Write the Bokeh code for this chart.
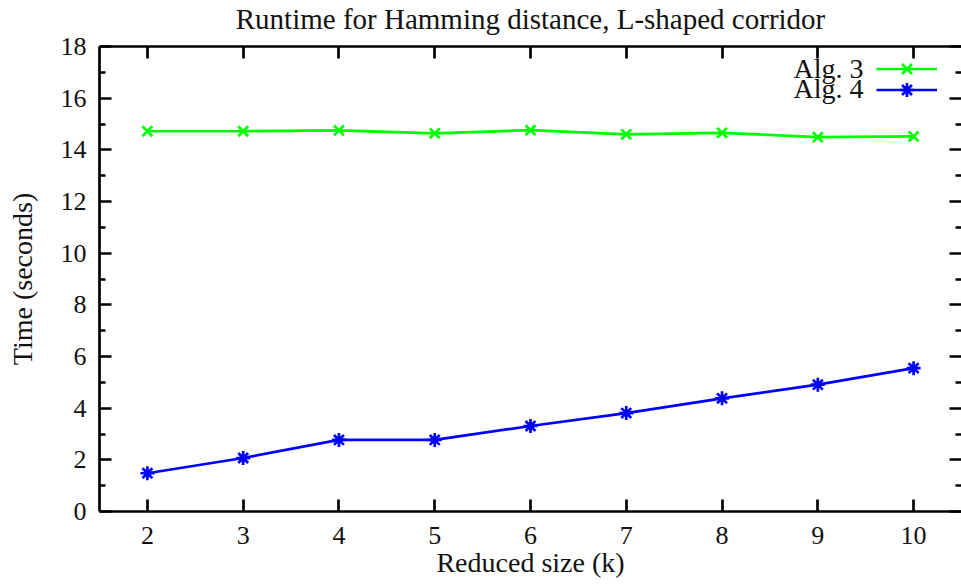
from bokeh.plotting import figure
from bokeh.models import (FixedTicker, LinearAxis, Label, Legend, LegendItem,
                          Range1d, CustomJSTickFormatter)
from bokeh.core.properties import value
from bokeh.embed import file_html
from bokeh.resources import INLINE

# Runtime measurements (seconds) per reduced size k
k_values = [2, 3, 4, 5, 6, 7, 8, 9, 10]
alg3_times = [14.72, 14.72, 14.75, 14.64, 14.76, 14.60, 14.66, 14.49, 14.52]
alg4_times = [1.48, 2.07, 2.77, 2.77, 3.31, 3.81, 4.38, 4.91, 5.55]
series_names = ["Alg. 3", "Alg. 4"]
series_colors = ["#00ff00", "#0000ff"]
series_markers = ["x", "asterisk"]

x_ticks = [2, 3, 4, 5, 6, 7, 8, 9, 10]
y_ticks = [0, 2, 4, 6, 8, 10, 12, 14, 16, 18]
y_minor_ticks = [1, 3, 5, 7, 9, 11, 13, 15, 17]

title_text = "Runtime for Hamming distance, L-shaped corridor"
y_label_text = "Time (seconds)"
x_label_text = "Reduced size (k)"

FONT = "Liberation Serif"
INK = "#111111"
LW = 2.7

p = figure(width=961, height=586, output_backend="svg", toolbar_location=None,
           x_range=Range1d(1.5, 10.5), y_range=Range1d(0, 18),
           min_border_left=99, min_border_right=0, min_border_top=45,
           min_border_bottom=75)
p.outline_line_color = None
p.grid.visible = False
p.background_fill_color = "white"
p.border_fill_color = "white"

# Title
p.title.text = title_text
p.title.align = "center"
p.title.text_font = FONT
p.title.text_font_size = "29px"
p.title.text_font_style = "normal"
p.title.text_color = INK
p.title.standoff = 0


def empty_labels(ax):
    ax.formatter = CustomJSTickFormatter(code="return ''")
    ax.major_label_text_font_size = "1px"
    ax.major_label_standoff = 0


def style_axis(ax, ticks, minor, show_labels=True):
    ax.ticker = FixedTicker(ticks=ticks, minor_ticks=minor)
    ax.axis_line_color = "black"
    ax.axis_line_width = LW
    ax.major_tick_line_color = "black"
    ax.major_tick_line_width = LW
    ax.minor_tick_line_color = "black"
    ax.minor_tick_line_width = LW
    ax.major_tick_in = 12
    ax.major_tick_out = 0
    ax.minor_tick_in = 6
    ax.minor_tick_out = 0
    ax.major_label_text_font = FONT
    ax.major_label_text_color = INK
    if show_labels:
        ax.major_label_text_font_size = "26px"
    else:
        empty_labels(ax)


# Bottom and left axes with labels
xax = p.xaxis[0]
style_axis(xax, x_ticks, [])
xax.major_label_standoff = 15
xax.axis_label = x_label_text
xax.axis_label_text_font = FONT
xax.axis_label_text_font_size = "28px"
xax.axis_label_text_font_style = "normal"
xax.axis_label_text_color = INK
xax.axis_label_standoff = 0

yax = p.yaxis[0]
style_axis(yax, y_ticks, y_minor_ticks)
yax.major_label_standoff = 13
yax.axis_label = y_label_text
yax.axis_label_text_font = FONT
yax.axis_label_text_font_size = "28px"
yax.axis_label_text_font_style = "normal"
yax.axis_label_text_color = INK
yax.axis_label_standoff = 20

# Mirrored tick marks on the top and right edges
top_ax = LinearAxis()
style_axis(top_ax, x_ticks, [], show_labels=False)
p.add_layout(top_ax, "above")

# Invisible strip between the frame and the title
gap_ax = LinearAxis(ticker=FixedTicker(ticks=x_ticks, minor_ticks=[]))
gap_ax.axis_line_color = None
gap_ax.major_tick_line_color = None
gap_ax.major_tick_in = 0
gap_ax.major_tick_out = 12
gap_ax.minor_tick_in = 0
gap_ax.minor_tick_out = 0
empty_labels(gap_ax)
p.add_layout(gap_ax, "above")

right_ax = LinearAxis()
style_axis(right_ax, y_ticks, y_minor_ticks, show_labels=False)
right_ax.axis_line_color = None
p.add_layout(right_ax, "right")

# Series: line plus markers, one key entry each
series_values = [alg3_times, alg4_times]
for i, (name, ys) in enumerate(zip(series_names, series_values)):
    r_line = p.line(k_values, ys, line_color=series_colors[i], line_width=LW)
    r_pts = p.scatter(k_values, ys, marker=series_markers[i], size=14,
                      line_color=series_colors[i], line_width=LW)
    # key sample at the right, its name right-aligned to its left
    key = Legend(items=[LegendItem(label=value(""), renderers=[r_line, r_pts])],
                 location=(777, 425 - 21 * i), padding=0, margin=0, spacing=0,
                 glyph_width=61, glyph_height=35, label_width=0,
                 label_height=35, label_standoff=0, border_line_color=None,
                 background_fill_alpha=0)
    p.add_layout(key)
    p.add_layout(Label(x=764, y=443 - 20 * i, x_units="screen", y_units="screen",
                       text=name, text_align="right", text_baseline="alphabetic",
                       text_font=FONT, text_font_size="28px", text_color=INK))

open("out.html", "w").write(file_html(p, INLINE))
